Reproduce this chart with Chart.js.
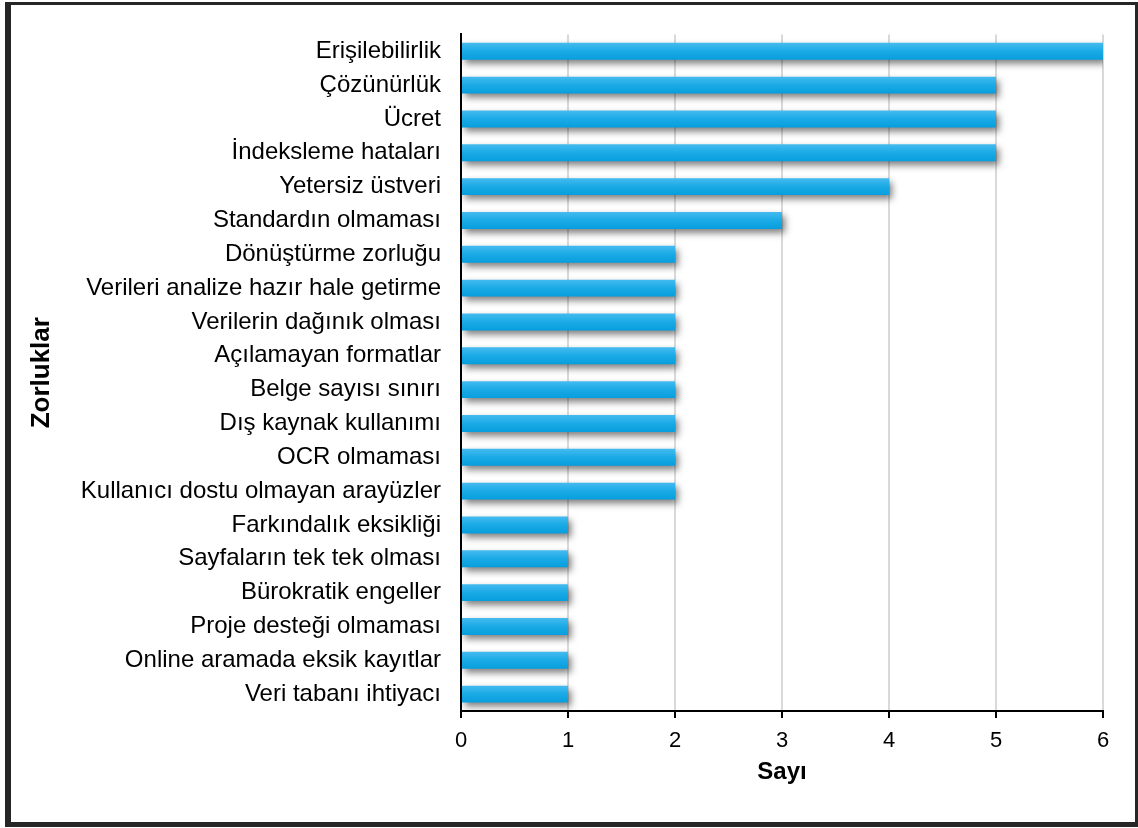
<!DOCTYPE html>
<html lang="tr">
<head>
<meta charset="utf-8">
<script src="https://cdn.jsdelivr.net/npm/chart.js@4/dist/chart.umd.min.js"></script>
<style>
  html, body { margin: 0; padding: 0; background: #ffffff; }
  canvas { display: block; }
</style>
</head>
<body>
<canvas id="chart" width="1138" height="828"></canvas>
<script>
// Challenges (Zorluklar) and how often each was mentioned (Sayı)
const categories = [
  "Erişilebilirlik",
  "Çözünürlük",
  "Ücret",
  "İndeksleme hataları",
  "Yetersiz üstveri",
  "Standardın olmaması",
  "Dönüştürme zorluğu",
  "Verileri analize hazır hale getirme",
  "Verilerin dağınık olması",
  "Açılamayan formatlar",
  "Belge sayısı sınırı",
  "Dış kaynak kullanımı",
  "OCR olmaması",
  "Kullanıcı dostu olmayan arayüzler",
  "Farkındalık eksikliği",
  "Sayfaların tek tek olması",
  "Bürokratik engeller",
  "Proje desteği olmaması",
  "Online aramada eksik kayıtlar",
  "Veri tabanı ihtiyacı"
];
const counts = [6, 5, 5, 5, 4, 3, 2, 2, 2, 2, 2, 2, 2, 2, 1, 1, 1, 1, 1, 1];
const xTicks = [0, 1, 2, 3, 4, 5, 6];

const xTitle = "Sayı";
const yTitle = "Zorluklar";

const FONT = "'Liberation Sans', Arial, sans-serif";

// Vertical gradient on each bar, lighter on top
function barGradient(ctx) {
  const chart = ctx.chart;
  const yScale = chart.scales.y;
  if (!yScale || ctx.dataIndex === undefined) return '#1aa8e4';
  const yc = yScale.getPixelForValue(ctx.dataIndex);
  const half = (yScale.height / categories.length) * 0.25;
  if (!isFinite(yc) || !isFinite(half) || half <= 0) return '#1aa8e4';
  const g = chart.ctx.createLinearGradient(0, yc - half, 0, yc + half);
  g.addColorStop(0, '#45bbef');
  g.addColorStop(0.5, '#1aaae6');
  g.addColorStop(1, '#079edd');
  return g;
}

// Soft drop shadow under the bars
const barShadow = {
  id: 'barShadow',
  beforeDatasetsDraw(chart) {
    const c = chart.ctx;
    c.save();
    c.shadowColor = 'rgba(0,0,0,0.5)';
    c.shadowBlur = 7;
    c.shadowOffsetX = 3;
    c.shadowOffsetY = 4;
  },
  afterDatasetsDraw(chart) {
    chart.ctx.restore();
  }
};

// Dark frame around the whole figure
const frame = {
  id: 'frame',
  afterDraw(chart) {
    const c = chart.ctx;
    c.save();
    c.fillStyle = '#262626';
    c.fillRect(5, 2, 1133, 3);     // top
    c.fillRect(5, 2, 6, 825);      // left
    c.fillRect(5, 822, 1133, 5);   // bottom
    c.fillRect(1135, 2, 3, 825);   // right
    c.restore();
  }
};

new Chart(document.getElementById('chart'), {
  type: 'bar',
  data: {
    labels: categories,
    datasets: [{
      data: counts,
      backgroundColor: barGradient,
      borderWidth: 0,
      barPercentage: 0.5,
      categoryPercentage: 1.0
    }]
  },
  options: {
    indexAxis: 'y',
    responsive: false,
    animation: false,
    layout: { padding: { left: 20, right: 35, top: 31, bottom: 0 } },
    plugins: {
      legend: { display: false },
      tooltip: { enabled: false }
    },
    scales: {
      x: {
        min: 0,
        max: 6,
        afterBuildTicks(scale) { scale.ticks = xTicks.map(v => ({ value: v })); },
        afterFit(scale) { scale.height = 117; },
        grid: {
          color: '#d9d9d9',
          lineWidth: 2,
          drawTicks: true,
          tickLength: 7,
          tickColor: '#000000',
          tickWidth: 2
        },
        border: { display: true, color: '#000000', width: 2 },
        ticks: {
          color: '#000000',
          padding: 10,
          font: { family: FONT, size: 22 }
        },
        title: {
          display: true,
          text: xTitle,
          color: '#000000',
          font: { family: FONT, size: 24, weight: 'bold' },
          padding: { top: 0, bottom: 41 }
        }
      },
      y: {
        afterFit(scale) { scale.width = 441; },
        grid: { display: false, drawTicks: false },
        border: { display: true, color: '#000000', width: 2 },
        ticks: {
          color: '#000000',
          padding: 20,
          autoSkip: false,
          font: { family: FONT, size: 24 }
        },
        title: {
          display: true,
          text: yTitle,
          color: '#000000',
          font: { family: FONT, size: 26, weight: 'bold' },
          padding: { top: 6, bottom: 0 }
        }
      }
    }
  },
  plugins: [barShadow, frame]
});
</script>
</body>
</html>
